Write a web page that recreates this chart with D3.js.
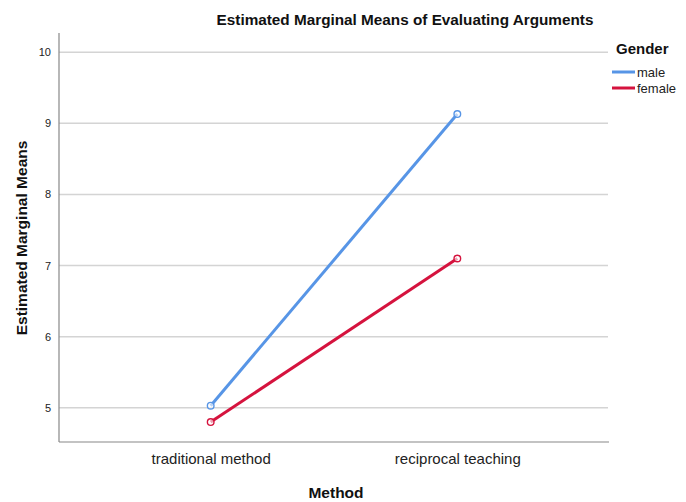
<!DOCTYPE html>
<html>
<head>
<meta charset="utf-8">
<script src="https://cdn.jsdelivr.net/npm/d3@7"></script>
<style>
body{margin:0;background:#fff;}
text{font-family:"Liberation Sans",Arial,sans-serif;}
</style>
</head>
<body>
<svg id="chart" width="686" height="502"></svg>
<script>
const categories = ["traditional method", "reciprocal teaching"];
const maleValues = [5.03, 9.13];
const femaleValues = [4.80, 7.10];
const yTicks = [5, 6, 7, 8, 9, 10];
const seriesNames = ["male", "female"];
const seriesColors = ["#5795e6", "#d5133e"];

const series = [
  {name: seriesNames[0], color: seriesColors[0], values: maleValues},
  {name: seriesNames[1], color: seriesColors[1], values: femaleValues}
];

const svg = d3.select("#chart");
const m = {left: 59, right: 609, top: 33, bottom: 442};

const x = d3.scalePoint().domain(categories).range([m.left, m.right]).padding(0.615);
const y = d3.scaleLinear().domain([4.52, 10.27]).range([m.bottom, m.top]);

// gridlines
svg.append("g").selectAll("line").data(yTicks).join("line")
  .attr("x1", m.left).attr("x2", m.right - 1)
  .attr("y1", d => y(d)).attr("y2", d => y(d))
  .attr("stroke", "#d4d4d4").attr("stroke-width", 1.5);

// y axis
const yAxis = svg.append("g").attr("transform", `translate(${m.left},0)`)
  .call(d3.axisLeft(y).tickValues(yTicks).tickFormat(d3.format("d")).tickSize(0).tickPadding(8));
yAxis.select(".domain").remove();
yAxis.selectAll("text").attr("font-size", 11).attr("fill", "#222")
  .attr("font-family", "'Liberation Sans',Arial,sans-serif");

// x axis
const xAxis = svg.append("g").attr("transform", `translate(0,${m.bottom})`)
  .call(d3.axisBottom(x).tickSize(0).tickPadding(11));
xAxis.select(".domain").remove();
xAxis.selectAll("text").attr("font-size", 15).attr("fill", "#222")
  .attr("font-family", "'Liberation Sans',Arial,sans-serif");

// axis lines
svg.append("line").attr("x1", m.left).attr("x2", m.left).attr("y1", m.top).attr("y2", m.bottom)
  .attr("stroke", "#888").attr("stroke-width", 1.2);
svg.append("line").attr("x1", m.left).attr("x2", m.right).attr("y1", m.bottom).attr("y2", m.bottom)
  .attr("stroke", "#888").attr("stroke-width", 1.2);

// lines
const line = d3.line().x((d, i) => x(categories[i])).y(d => y(d));
series.forEach(s => {
  svg.append("path").datum(s.values).attr("d", line)
    .attr("fill", "none").attr("stroke", s.color).attr("stroke-width", 3);
  svg.append("g").selectAll("circle").data(s.values).join("circle")
    .attr("cx", (d, i) => x(categories[i])).attr("cy", d => y(d)).attr("r", 3.3)
    .attr("fill", "#fff").attr("fill-opacity", 0.6).attr("stroke", s.color).attr("stroke-width", 1.4);
});

// title
svg.append("text").attr("x", 405).attr("y", 25).attr("text-anchor", "middle")
  .attr("font-size", 15.3).attr("font-weight", "bold").attr("fill", "#111")
  .text("Estimated Marginal Means of Evaluating Arguments");

// y label
svg.append("text").attr("transform", "translate(27,238) rotate(-90)").attr("text-anchor", "middle")
  .attr("font-size", 15.5).attr("font-weight", "bold").attr("fill", "#111")
  .text("Estimated Marginal Means");

// x label
svg.append("text").attr("x", 336).attr("y", 498).attr("text-anchor", "middle")
  .attr("font-size", 15.5).attr("font-weight", "bold").attr("fill", "#111")
  .text("Method");

// legend
svg.append("text").attr("x", 616).attr("y", 54)
  .attr("font-size", 15).attr("font-weight", "bold").attr("fill", "#111").text("Gender");
const lg = svg.append("g").selectAll("g").data(series).join("g")
  .attr("transform", (d, i) => `translate(612,${72 + i * 16})`);
lg.append("line").attr("x1", 0).attr("x2", 23).attr("y1", 0).attr("y2", 0)
  .attr("stroke", d => d.color).attr("stroke-width", 3);
lg.append("text").attr("x", 25).attr("y", 4.5).attr("font-size", 13).attr("fill", "#222")
  .text(d => d.name);
</script>
</body>
</html>
